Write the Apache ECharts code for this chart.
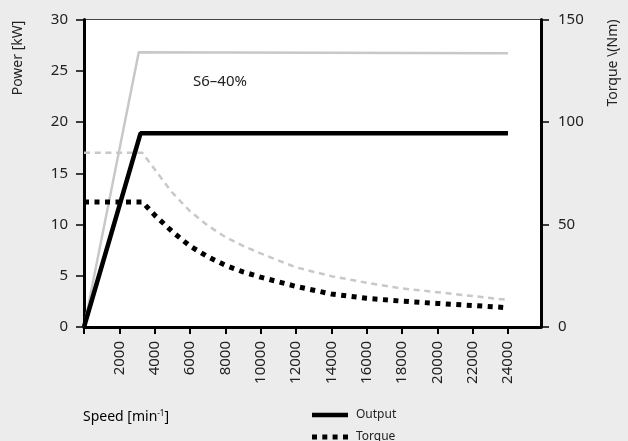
<!DOCTYPE html>
<html>
<head>
<meta charset="utf-8">
<script src="https://cdn.jsdelivr.net/npm/echarts@6/dist/echarts.min.js"></script>
<style>
html,body{margin:0;padding:0;background:#ececec;}
#c{width:628px;height:441px;}
</style>
</head>
<body>
<div id="c"></div>
<script>
// ---- data ----
const speedTicks = [0,2000,4000,6000,8000,10000,12000,14000,16000,18000,20000,22000,24000];
const speedLabels = [2000,4000,6000,8000,10000,12000,14000,16000,18000,20000,22000,24000];

// power [kW] (left axis)
const outputPower = [[0,0],[3200,18.9],[24000,18.9]];
const s6Power = [[0,0],[3100,26.8],[24000,26.7]];

// torque [Nm] (right axis)
const torqueSpeed = [0,3300,4000,5000,6000,7000,8000,9000,10000,12000,14000,16000,18000,20000,22000,24000];
const outputTorque = [61,61,54.6,46.5,39.5,34.3,30.1,26.9,24.3,19.8,16.1,14.0,12.6,11.5,10.5,9.4];
const s6Torque = [85,85,76.9,65.5,56.5,49.5,43.9,39.6,35.9,29.1,24.8,21.6,18.8,17.0,15.1,13.2];

const leftTicks = [0,5,10,15,20,25,30];
const rightTicks = [0,50,100,150];

const FONT = 'Noto Sans';
const TXT = '#222';

const pair = (xs, ys) => xs.map((x,i)=>[x, ys[i]]);

const legendBase = {
  orient: 'vertical', left: 312, padding: 0,
  itemWidth: 36, itemHeight: 10,
  itemStyle: {color: '#000'},
  textStyle: {fontFamily: FONT, fontSize: 12, color: TXT, padding: [0,0,0,3]}
};

const chart = echarts.init(document.getElementById('c'), null, {renderer:'canvas'});
chart.setOption({
  backgroundColor: '#ececec',
  animation: false,
  textStyle: {fontFamily: FONT},
  grid: {
    left: 84, right: 87, top: 19.5, bottom: 114,
    show: true, backgroundColor: '#ffffff', borderColor: '#444', borderWidth: 1
  },
  legend: [
    Object.assign({}, legendBase, {top: 409,
      data: [{name: 'Output', icon: 'path://M0,0H36V4.5H0Z'}]}),
    Object.assign({}, legendBase, {top: 431,
      data: [{name: 'Torque', icon: 'path://M0,0h5v5h-5zM10.3,0h5v5h-5zM20.6,0h5v5h-5zM31,0h5v5h-5z'}]})
  ],
  xAxis: {
    type: 'value', min: 0, max: 25870,
    axisLine: {show: true, lineStyle: {color: '#000', width: 3}},
    axisTick: {show: true, customValues: speedTicks, length: 7, lineStyle: {color: '#000', width: 2}},
    axisLabel: {show: true, customValues: speedLabels, rotate: 90, margin: 14,
      formatter: v => String(v),
      fontFamily: FONT, fontSize: 15, color: TXT},
    splitLine: {show: false}
  },
  yAxis: [
    {
      type: 'value', min: 0, max: 30, interval: 5, position: 'left',
      axisLine: {show: true, lineStyle: {color: '#000', width: 3}},
      axisTick: {show: true, length: 8, lineStyle: {color: '#000', width: 1.5}},
      axisLabel: {margin: 16, fontFamily: FONT, fontSize: 15, color: TXT},
      splitLine: {show: false}
    },
    {
      type: 'value', min: 0, max: 150, interval: 50, position: 'right',
      axisLine: {show: true, lineStyle: {color: '#000', width: 3}},
      axisTick: {show: true, length: 8, lineStyle: {color: '#000', width: 1.5}},
      axisLabel: {margin: 17, fontFamily: FONT, fontSize: 15, color: TXT},
      splitLine: {show: false}
    }
  ],
  series: [
    {
      name: 'S6 Power', type: 'line', yAxisIndex: 0, data: s6Power,
      symbol: 'none', lineStyle: {color: '#c8c8c8', width: 2.5}, z: 2
    },
    {
      name: 'S6 Torque', type: 'line', yAxisIndex: 1, data: pair(torqueSpeed, s6Torque),
      symbol: 'none', lineStyle: {color: '#c8c8c8', width: 2.5, type: [6,4.7], cap: 'butt'}, z: 2
    },
    {
      name: 'Output', type: 'line', yAxisIndex: 0, data: outputPower,
      symbol: 'none', itemStyle: {color: '#000'},
      lineStyle: {color: '#000', width: 4.5}, z: 3
    },
    {
      name: 'Torque', type: 'line', yAxisIndex: 1, data: pair(torqueSpeed, outputTorque),
      symbol: 'none', itemStyle: {color: '#000'},
      lineStyle: {color: '#000', width: 5, type: [5,5.5], cap: 'butt'}, z: 3
    }
  ],
  graphic: [
    {type: 'text', x: 193, y: 82, style: {text: 'S6–40%', font: '15px "Noto Sans"', fill: TXT, textVerticalAlign: 'middle'}},
    {type: 'text', x: 18, y: 58, rotation: Math.PI/2,
      style: {text: 'Power [kW]', font: '14px "Noto Sans"', fill: TXT, textAlign: 'center', textVerticalAlign: 'middle'}},
    {type: 'text', x: 613, y: 63, rotation: Math.PI/2,
      style: {text: 'Torque \\(Nm)', font: '14px "Noto Sans"', fill: TXT, textAlign: 'center', textVerticalAlign: 'middle'}},
    {type: 'text', x: 83, y: 417,
      style: {
        text: '{a|Speed [min}{s|-1}{a|]}',
        rich: {
          a: {fontFamily: FONT, fontSize: 14, color: TXT},
          s: {fontFamily: FONT, fontSize: 8, color: TXT, verticalAlign: 'top', padding: [0,0,6,0]}
        },
        textVerticalAlign: 'middle'
      }}
  ]
});
</script>
</body>
</html>
